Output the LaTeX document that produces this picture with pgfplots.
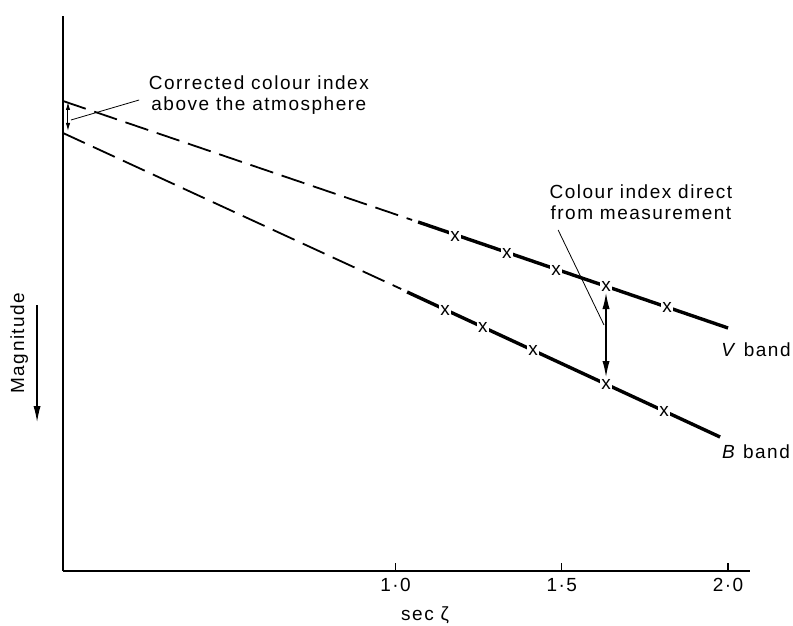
\documentclass[border=0pt]{standalone}
\usepackage{fontspec}
\setmainfont{Liberation Sans}[LetterSpace=8]
\usepackage{pgfplots}
\pgfplotsset{compat=1.18}
\usetikzlibrary{arrows.meta,calc}

% V and B band readings (sec zeta, magnitude in arbitrary units, up = brighter)
\pgfplotstableread{
x y
1.179 3.35
1.335 3.18
1.483 3.01
1.633 2.85
1.817 2.64
}\vmarks
\pgfplotstableread{
x y
1.149 2.61
1.263 2.44
1.414 2.205
1.633 1.87
1.808 1.60
}\bmarks

\begin{document}
\begin{tikzpicture}[font=\fontsize{9.5}{10.5}\selectfont]
  \begin{axis}[
    name=ax,
    scale only axis,
    width=343.5pt, height=277.5pt,
    xmin=0, xmax=2.066, ymin=0, ymax=5.55,
    axis lines=left,
    axis line style={-, line width=0.8pt},
    ytick=\empty,
    xtick={1,1.5,2},
    xticklabels={1·0,1·5,2·0},
    tick align=inside,
    major tick length=4pt,
    tick style={line width=0.6pt, black},
    clip=false,
  ]
    % extrapolation to sec zeta = 0
    \addplot[black, line width=0.9pt, dash pattern=on 12pt off 4.5pt]
      coordinates {(0,4.70) (1.050,3.51)};
    \addplot[black, line width=0.9pt, dash pattern=on 12pt off 4.5pt]
      coordinates {(0,4.38) (1.017,2.82)};
    % measured range
    \addplot[black, line width=1.7pt] coordinates {(1.068,3.49) (2.0,2.43)};
    \addplot[black, line width=1.7pt] coordinates {(1.035,2.79) (1.976,1.34)};
    % measurement crosses
    \addplot[draw=none, mark=none, nodes near coords={x},
      every node near coord/.style={anchor=center, fill=white, inner sep=0.7pt}]
      table {\vmarks};
    \addplot[draw=none, mark=none, nodes near coords={x},
      every node near coord/.style={anchor=center, fill=white, inner sep=0.7pt}]
      table {\bmarks};

    % colour index arrows and notes
    \draw[line width=0.6pt, {Latex[length=8pt,width=3.6pt]}-{Latex[length=8pt,width=3.6pt]}]
      (axis cs:1.633,2.78) -- (axis cs:1.633,1.94);
    \draw[line width=0.4pt] (axis cs:1.489,3.41) -- (axis cs:1.627,2.46);
    \node[align=center] at (axis cs:1.738,3.69) {Colour index direct\\from measurement};

    \draw[line width=0.5pt, {Latex[length=4pt,width=2.2pt]}-{Latex[length=4pt,width=2.2pt]}]
      (axis cs:0.015,4.69) -- (axis cs:0.015,4.40);
    \draw[line width=0.4pt] (axis cs:0.229,4.71) -- (axis cs:0.024,4.51);
    \node[align=center] at (axis cs:0.589,4.76) {Corrected colour index\\above the atmosphere};

    \node at (axis cs:2.084,2.21) {\textit{V} band};
    \node at (axis cs:2.084,1.19) {\textit{B} band};

    \node at (axis cs:1.089,-0.44) {sec ζ};
    \node[rotate=90] at (axis cs:-0.132,2.28) {Magnitude};
    \draw[line width=0.6pt, -{Latex[length=8pt,width=3.6pt]}]
      (axis cs:-0.078,2.66) -- (axis cs:-0.078,1.49);
  \end{axis}
  \pgfresetboundingbox
  \path[use as bounding box] ($(ax.south west)+(-31.5pt,-27pt)$) rectangle ($(ax.north east)+(21.5pt,8pt)$);
\end{tikzpicture}
\end{document}
